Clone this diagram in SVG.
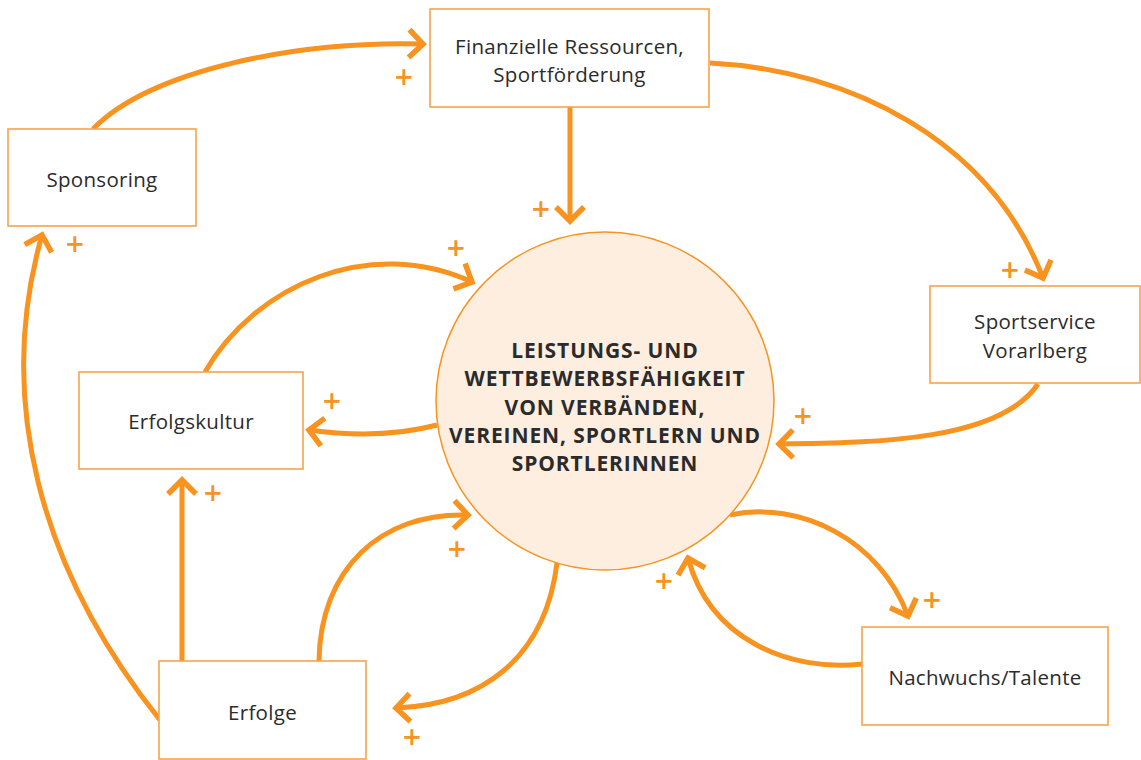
<svg xmlns="http://www.w3.org/2000/svg" width="1141" height="760" viewBox="0 0 1141 760">
  <defs>
    <style>
      .box { fill: #ffffff; stroke: #f7a34a; stroke-width: 1.6; }
      .label { font-family: "Open Sans", "Noto Sans", sans-serif; font-size: 20.5px; letter-spacing: 0.3px; fill: #2b2b2b; text-anchor: middle; }
      .core { font-family: "Open Sans", "Noto Sans", sans-serif; font-size: 21px; font-weight: bold; letter-spacing: 0.9px; fill: #2b2b2b; text-anchor: middle; }
      .link { fill: none; stroke: #f7931e; stroke-width: 5; marker-end: url(#chevron); }
      .plus { font-family: "Open Sans", "Noto Sans", sans-serif; font-size: 32px; font-weight: 600; fill: #f7931e; text-anchor: middle; }
    </style>
    <marker id="chevron" markerUnits="userSpaceOnUse" viewBox="-20 -18 24 36" refX="0" refY="0" markerWidth="24" markerHeight="36" orient="auto" overflow="visible">
      <path d="M-14,-14 L0,0 L-14,14" fill="none" stroke="#f7931e" stroke-width="5.5" stroke-linecap="butt" stroke-linejoin="miter"/>
    </marker>
  </defs>

  <rect width="1141" height="760" fill="#ffffff"/>

  <!-- connectors -->
  <g id="connectors">
    <path class="link" d="M93,129 C150,70 300,40 423,44"/>
    <path class="link" d="M570,107 L570,221"/>
    <path class="link" d="M710,63 C850,70 990,140 1043,278"/>
    <path class="link" d="M1038,384 C1000,440 880,443 779,444"/>
    <path class="link" d="M437,425 Q380,440 309,430"/>
    <path class="link" d="M205,372 C255,285 370,235 472,282"/>
    <path class="link" d="M182,661 L182,480"/>
    <path class="link" d="M319,661 C320,570 380,512 468,515"/>
    <path class="link" d="M557,563 C545,660 480,705 396,708"/>
    <path class="link" d="M160,720 C40,570 -5,400 42,235"/>
    <path class="link" d="M730,515 C800,500 880,540 908,616"/>
    <path class="link" d="M862,664 C790,672 710,640 688,558"/>
  </g>

  <!-- polarity signs -->
  <g id="signs">
    <text class="plus" x="404" y="89">+</text>
    <text class="plus" x="541" y="221">+</text>
    <text class="plus" x="1010" y="282">+</text>
    <text class="plus" x="803" y="428">+</text>
    <text class="plus" x="332" y="413">+</text>
    <text class="plus" x="456" y="260">+</text>
    <text class="plus" x="213" y="505">+</text>
    <text class="plus" x="457" y="561">+</text>
    <text class="plus" x="412" y="749">+</text>
    <text class="plus" x="75" y="256">+</text>
    <text class="plus" x="932" y="612">+</text>
    <text class="plus" x="664" y="593">+</text>
  </g>

  <!-- central node -->
  <g id="core">
    <circle cx="605" cy="401" r="169" fill="#fdeee0" stroke="#f7931e" stroke-width="1.5"/>
    <text class="core" x="605" y="358">LEISTUNGS- UND</text>
    <text class="core" x="605" y="386">WETTBEWERBSFÄHIGKEIT</text>
    <text class="core" x="605" y="415">VON VERBÄNDEN,</text>
    <text class="core" x="605" y="443">VEREINEN, SPORTLERN UND</text>
    <text class="core" x="605" y="471">SPORTLERINNEN</text>
  </g>

  <g id="finanzen">
    <rect class="box" x="430" y="9" width="279" height="98"/>
    <text class="label" x="569.5" y="54">Finanzielle Ressourcen,</text>
    <text class="label" x="569.5" y="82">Sportförderung</text>
  </g>

  <g id="sponsoring">
    <rect class="box" x="8" y="129" width="188" height="97"/>
    <text class="label" x="102" y="187">Sponsoring</text>
  </g>

  <g id="sportservice">
    <rect class="box" x="930" y="286" width="210" height="97"/>
    <text class="label" x="1035" y="329">Sportservice</text>
    <text class="label" x="1035" y="358">Vorarlberg</text>
  </g>

  <g id="erfolgskultur">
    <rect class="box" x="79" y="372" width="224" height="97"/>
    <text class="label" x="191" y="429">Erfolgskultur</text>
  </g>

  <g id="erfolge">
    <rect class="box" x="159" y="661" width="207" height="98"/>
    <text class="label" x="262.5" y="720">Erfolge</text>
  </g>

  <g id="nachwuchs">
    <rect class="box" x="862" y="627" width="246" height="98"/>
    <text class="label" x="985" y="685">Nachwuchs/Talente</text>
  </g>
</svg>
